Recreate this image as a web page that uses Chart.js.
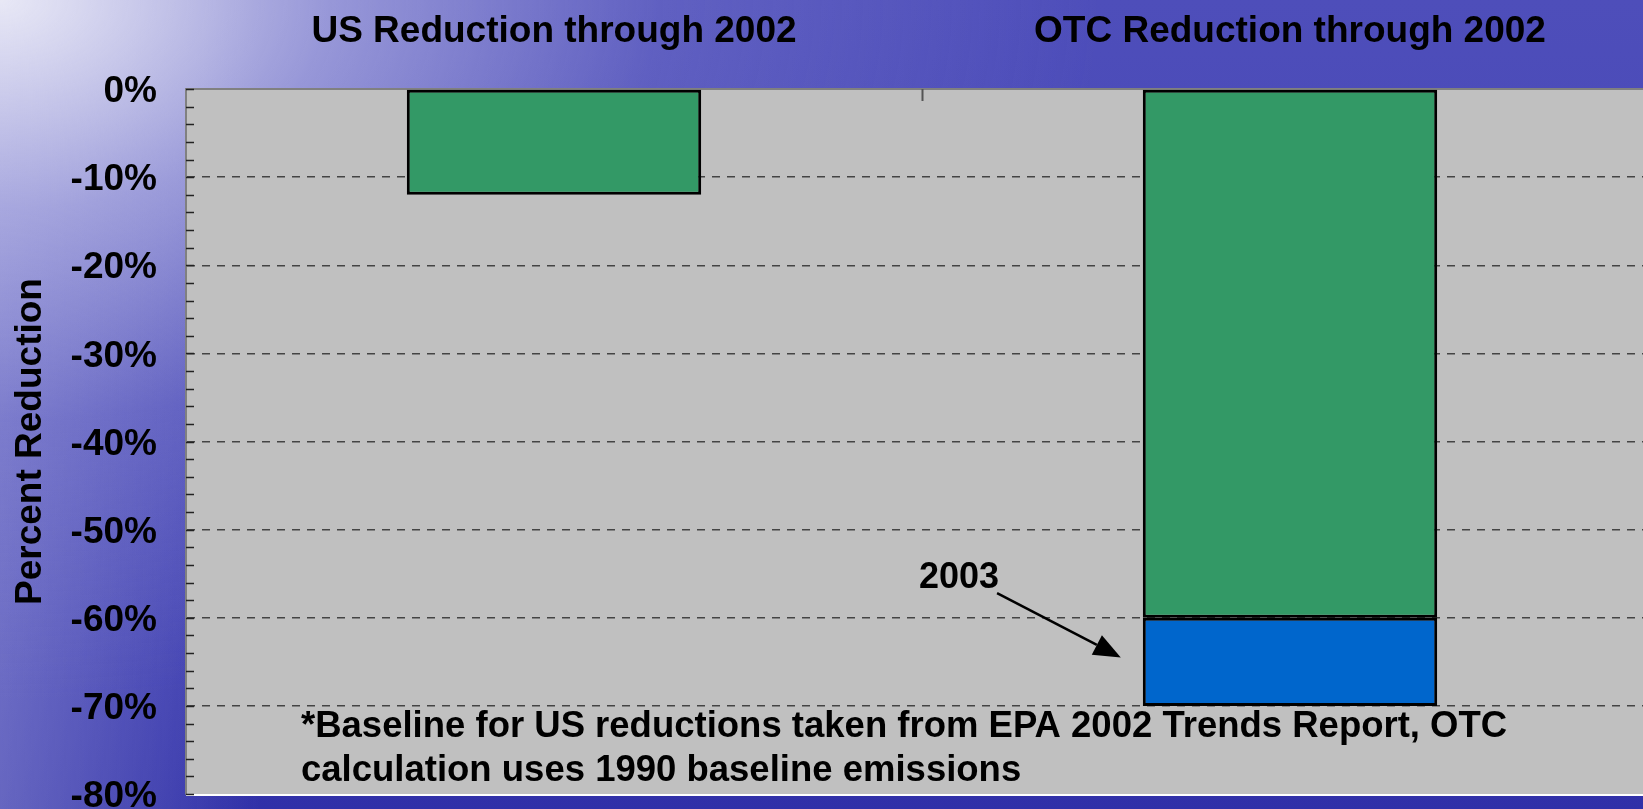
<!DOCTYPE html>
<html>
<head>
<meta charset="utf-8">
<script src="https://cdn.jsdelivr.net/npm/chart.js@4"></script>
<style>
  html, body { margin: 0; padding: 0; width: 1643px; height: 809px; overflow: hidden; }
  body {
    background:
      radial-gradient(ellipse 1100px 700px at 0 0, rgba(238,238,248,0.95) 0%, rgba(200,200,236,0.6) 30%, rgba(150,150,215,0.25) 60%, rgba(120,120,200,0) 100%),
      linear-gradient(to right, rgba(190,190,232,0.38) 0%, rgba(190,190,232,0) 260px),
      linear-gradient(to bottom, #4e4eba 0%, #4646b6 50%, #3c3cb0 75%, #3030a8 100%);
  }
  #wrap { position: absolute; left: 0; top: 0; width: 1680px; height: 809px; }
</style>
</head>
<body>
<div id="wrap"><canvas id="chart" width="1680" height="809"></canvas></div>
<script>
// chart data
const categories = ['US Reduction through 2002', 'OTC Reduction through 2002'];
const through2002 = [-12, -60];
const added2003 = [null, -10];
const yTicks = [0, -10, -20, -30, -40, -50, -60, -70, -80];

const FONT = '"Liberation Sans", Arial, sans-serif';

// grey plot area + inner tick marks
const plotDecor = {
    id: 'plotDecor',
    beforeDraw(chart) {
        const { ctx, chartArea: a } = chart;
        ctx.save();
        ctx.fillStyle = '#c0c0c0';
        ctx.fillRect(a.left, a.top, a.right - a.left, a.bottom - a.top);
        ctx.fillStyle = '#ffffff';
        ctx.fillRect(a.left, a.bottom, a.right - a.left, 2);
        ctx.restore();
    },
    afterDraw(chart) {
        const { ctx, chartArea: a, scales } = chart;
        const y = scales.y, x = scales.x;
        ctx.save();
        ctx.strokeStyle = '#222';
        ctx.lineWidth = 1.5;
        for (let v = 0; v >= -80; v -= 2) {
            const py = Math.round(y.getPixelForValue(v)) + 0.5;
            ctx.beginPath();
            ctx.moveTo(a.left, py);
            ctx.lineTo(a.left + 8, py);
            ctx.stroke();
        }
        // separator tick between the two categories
        const sx = Math.round(x.getPixelForValue(0.5)) + 0.5;
        ctx.strokeStyle = '#555';
        ctx.lineWidth = 2;
        ctx.beginPath();
        ctx.moveTo(sx, a.top);
        ctx.lineTo(sx, a.top + 12);
        ctx.stroke();
        ctx.restore();
    }
};

// "2003" call-out and footnote
const notes = {
    id: 'notes',
    afterDraw(chart) {
        const { ctx, scales } = chart;
        const x = scales.x, y = scales.y;
        const bar = chart.getDatasetMeta(1).data[1];
        ctx.save();
        ctx.fillStyle = '#000';
        ctx.font = 'bold 36px ' + FONT;
        ctx.textAlign = 'left';
        ctx.textBaseline = 'alphabetic';
        ctx.fillText('2003', x.getPixelForValue(0.5) - 3, y.getPixelForValue(-56.6));

        const x0 = x.getPixelForValue(0.602), y0 = y.getPixelForValue(-57.2);
        const x1 = bar.x - bar.width / 2 - 22, y1 = y.getPixelForValue(-64.5);
        const ang = Math.atan2(y1 - y0, x1 - x0);
        const L = 27, W = 11;
        const bx = x1 - L * Math.cos(ang), by = y1 - L * Math.sin(ang);
        ctx.strokeStyle = '#000';
        ctx.lineWidth = 2.5;
        ctx.beginPath();
        ctx.moveTo(x0, y0);
        ctx.lineTo(bx, by);
        ctx.stroke();
        ctx.beginPath();
        ctx.moveTo(x1, y1);
        ctx.lineTo(bx - W * Math.sin(ang), by + W * Math.cos(ang));
        ctx.lineTo(bx + W * Math.sin(ang), by - W * Math.cos(ang));
        ctx.closePath();
        ctx.fill();

        ctx.font = 'bold 36.5px ' + FONT;
        ctx.fillText('*Baseline for US reductions taken from EPA 2002 Trends Report, OTC', 301, 737);
        ctx.fillText('calculation uses 1990 baseline emissions', 301, 781);
        ctx.restore();
    }
};

new Chart(document.getElementById('chart'), {
    type: 'bar',
    data: {
        labels: categories,
        datasets: [
            { label: 'through 2002', data: through2002, backgroundColor: '#339966', borderColor: '#000', borderWidth: 3, borderSkipped: false },
            { label: '2003', data: added2003, backgroundColor: '#0066cc', borderColor: '#000', borderWidth: 3, borderSkipped: false }
        ]
    },
    options: {
        responsive: false,
        animation: false,
        layout: { padding: { left: 0, right: 22, top: 0, bottom: 15 } },
        datasets: { bar: { categoryPercentage: 1, barPercentage: 0.4 } },
        plugins: { legend: { display: false }, tooltip: { enabled: false } },
        scales: {
            x: {
                position: 'top',
                stacked: true,
                grid: { display: false, drawTicks: false },
                border: { color: '#808080', width: 2 },
                ticks: { color: '#000', font: { family: FONT, size: 37, weight: 'bold' }, padding: 35, maxRotation: 0 },
                afterFit(s) { s.height = 89; }
            },
            y: {
                stacked: true,
                min: -80,
                max: 0,
                afterBuildTicks(s) { s.ticks = yTicks.map(v => ({ value: v })); },
                ticks: {
                    color: '#000',
                    padding: 29,
                    labelOffset: 3,
                    font: { family: FONT, size: 37, weight: 'bold' },
                    callback: v => v + '%'
                },
                grid: {
                    drawTicks: false,
                    lineWidth: 1.5,
                    color: c => (c.tick && (c.tick.value === 0 || c.tick.value === -80)) ? 'rgba(0,0,0,0)' : '#444'
                },
                border: { color: '#808080', width: 2, dash: [8, 7] },
                title: {
                    display: true,
                    text: 'Percent Reduction',
                    color: '#000',
                    font: { family: FONT, size: 37, weight: 'bold' },
                    padding: { top: 9, bottom: 0 }
                },
                afterFit(s) { s.width = 186; s.paddingTop = 0; s.paddingBottom = 0; }
            }
        }
    },
    plugins: [plotDecor, notes]
});
</script>
</body>
</html>
